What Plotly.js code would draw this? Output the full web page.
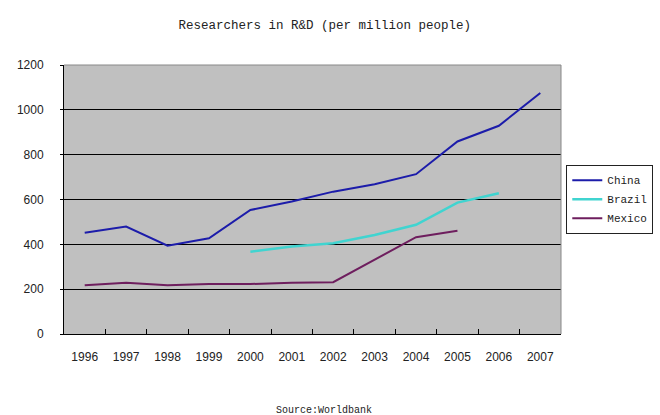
<!DOCTYPE html>
<html>
<head>
<meta charset="utf-8">
<script src="https://cdn.plot.ly/plotly-3.0.1.min.js"></script>
<style>
  html, body { margin: 0; padding: 0; background: #fff; }
  #chart { width: 660px; height: 415px; }
</style>
</head>
<body>
<div id="chart"></div>
<script>
var years = ['1996', '1997', '1998', '1999', '2000', '2001', '2002', '2003', '2004', '2005', '2006', '2007'];

var china = [452, 479, 394, 427, 553, 591, 635, 668, 713, 859, 929, 1075];
var brazil = [null, null, null, null, 367, 390, 405, 442, 487, 586, 628, null];
var mexico = [217, 229, 217, 223, 223, 229, 231, 333, 432, 461, null, null];

var monoFont = 'Liberation Mono, DejaVu Sans Mono, monospace';

var traces = [
  { x: years, y: china, name: 'China', legendgroup: 'a', type: 'scatter', mode: 'lines',
    line: { color: '#1c1caa', width: 2 } },
  { x: years, y: brazil, name: 'Brazil', legendgroup: 'b', type: 'scatter', mode: 'lines',
    line: { color: '#40d4d0', width: 2.5 } },
  { x: years, y: mexico, name: 'Mexico', legendgroup: 'c', type: 'scatter', mode: 'lines',
    line: { color: '#6e1e5e', width: 2 } }
];

var layout = {
  width: 660,
  height: 415,
  margin: { l: 64, r: 99, t: 65, b: 81 },
  paper_bgcolor: '#ffffff',
  plot_bgcolor: '#c0c0c0',
  title: {
    text: 'Researchers in R&amp;D (per million people)',
    font: { family: monoFont, size: 12.5, color: '#222' },
    x: 0.492, xanchor: 'center', y: 0.94, yanchor: 'middle'
  },
  showlegend: true,
  legend: {
    xref: 'container', yref: 'container',
    x: 0.858, xanchor: 'left', y: 0.52, yanchor: 'middle',
    bgcolor: '#ffffff', bordercolor: '#222', borderwidth: 1,
    font: { family: monoFont, size: 11, color: '#222' },
    tracegroupgap: 5, itemwidth: 30, traceorder: 'normal'
  },
  xaxis: {
    type: 'category',
    range: [-0.5, 11.5],
    tickson: 'boundaries',
    ticks: 'inside', ticklen: 5, tickcolor: '#000',
    showgrid: false,
    showline: true, linecolor: '#000', linewidth: 1,
    tickfont: { family: 'Liberation Sans, Arial, sans-serif', size: 12, color: '#222' },
    ticklabelstandoff: 12,
    fixedrange: true
  },
  yaxis: {
    range: [0, 1200], dtick: 200,
    showgrid: true, gridcolor: '#000', gridwidth: 1,
    zeroline: false,
    showline: true, linecolor: '#000', linewidth: 1,
    ticks: 'outside', ticklen: 3, tickcolor: '#000',
    tickfont: { family: 'Liberation Sans, Arial, sans-serif', size: 12, color: '#222' },
    ticklabelstandoff: 14,
    fixedrange: true
  },
  shapes: [
    { type: 'line', xref: 'paper', yref: 'paper', x0: 0, x1: 1, y0: 1, y1: 1,
      line: { color: '#888', width: 1 } },
    { type: 'line', xref: 'paper', yref: 'paper', x0: 1, x1: 1, y0: 0, y1: 1,
      line: { color: '#888', width: 1 } }
  ],
  annotations: [
    { text: 'Source:Worldbank', xref: 'paper', yref: 'paper',
      x: 0.523, y: -0.285, xanchor: 'center', yanchor: 'middle',
      showarrow: false, font: { family: monoFont, size: 10, color: '#222' } }
  ]
};

Plotly.newPlot('chart', traces, layout, { displayModeBar: false, staticPlot: true });
</script>
</body>
</html>
